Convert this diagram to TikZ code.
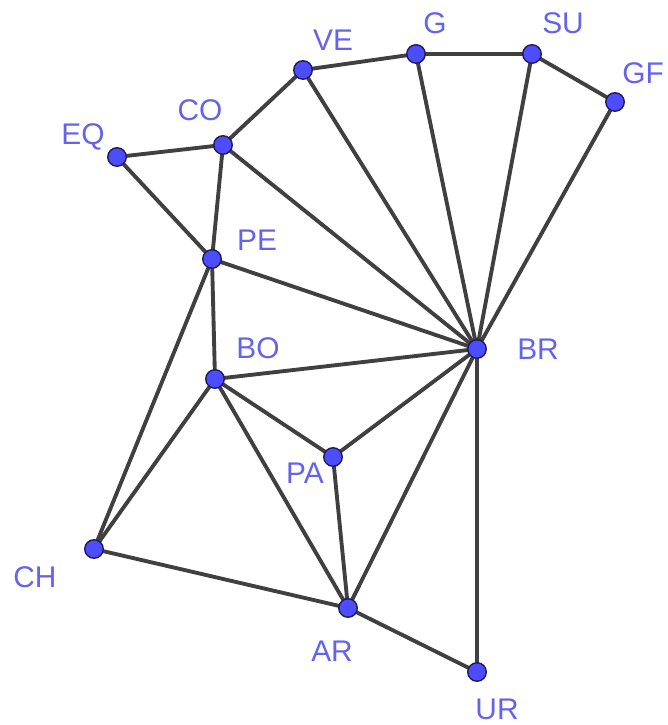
\documentclass[tikz,border=0pt]{standalone}
\usepackage{fontspec}
\setmainfont{Liberation Sans}
\usepackage{amsmath,tikz,tkz-euclide}
\definecolor{ptblue}{RGB}{77,77,255}
\definecolor{ptedge}{RGB}{30,30,90}
\definecolor{lblblue}{RGB}{100,100,235}
\definecolor{edgegray}{RGB}{64,64,64}
\tikzset{
  lbl/.style={text=lblblue,font=\fontsize{17}{20}\selectfont,anchor=center,inner sep=0pt},
  edge/.style={line width=2.2pt,color=edgegray}
}

\begin{document}
\begin{tikzpicture}
    \useasboundingbox (0,0) rectangle (13.34,14.5);
    \tkzDefPoint(6.06,13.10){VE}
    \tkzDefPoint(8.32,13.42){G}
    \tkzDefPoint(10.64,13.42){SU}
    \tkzDefPoint(12.30,12.46){GF}
    \tkzDefPoint(4.46,11.60){CO}
    \tkzDefPoint(2.34,11.36){EQ}
    \tkzDefPoint(4.24,9.32){PE}
    \tkzDefPoint(9.54,7.52){BR}
    \tkzDefPoint(4.30,6.92){BO}
    \tkzDefPoint(6.66,5.36){PA}
    \tkzDefPoint(1.88,3.52){CH}
    \tkzDefPoint(6.96,2.34){AR}
    \tkzDefPoint(9.54,1.06){UR}
    % borders
    \tkzDrawSegments[edge](EQ,CO EQ,PE CO,VE CO,PE CO,BR VE,G VE,BR G,SU G,BR SU,GF SU,BR GF,BR)
    \tkzDrawSegments[edge](PE,BR PE,BO PE,CH BO,BR BO,PA BO,AR BO,CH PA,BR PA,AR)
    \tkzDrawSegments[edge](BR,AR BR,UR CH,AR AR,UR)
    \foreach \p in {VE,G,SU,GF,CO,EQ,PE,BR,BO,PA,CH,AR,UR}
      \filldraw[fill=ptblue,draw=ptedge,line width=0.8pt] (\p) circle (0.185);
    \tkzLabelPoint[lbl,shift={(0.60,0.60)}](VE){VE}
    \tkzLabelPoint[lbl,shift={(0.38,0.62)}](G){G}
    \tkzLabelPoint[lbl,shift={(0.62,0.62)}](SU){SU}
    \tkzLabelPoint[lbl,shift={(0.56,0.58)}](GF){GF}
    \tkzLabelPoint[lbl,shift={(-0.46,0.70)}](CO){CO}
    \tkzLabelPoint[lbl,shift={(-0.68,0.40)}](EQ){EQ}
    \tkzLabelPoint[lbl,shift={(0.90,0.38)}](PE){PE}
    \tkzLabelPoint[lbl,shift={(0.86,0.62)}](BO){BO}
    \tkzLabelPoint[lbl,shift={(1.22,0)}](BR){BR}
    \tkzLabelPoint[lbl,shift={(-0.56,-0.32)}](PA){PA}
    \tkzLabelPoint[lbl,shift={(-1.18,-0.56)}](CH){CH}
    \tkzLabelPoint[lbl,shift={(-0.32,-0.86)}](AR){AR}
    \tkzLabelPoint[lbl,shift={(0.40,-0.74)}](UR){UR}
\end{tikzpicture}
\end{document}
